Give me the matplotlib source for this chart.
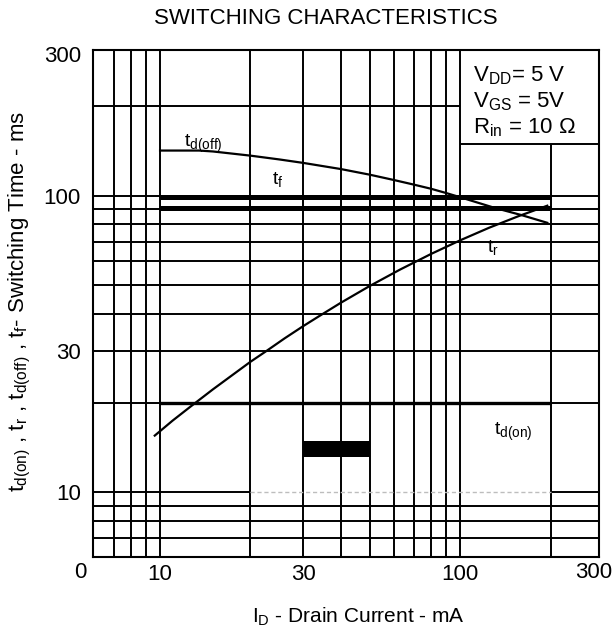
import matplotlib
matplotlib.use("Agg")
import matplotlib.pyplot as plt

plt.rcParams["font.family"] = ["Liberation Sans", "DejaVu Sans"]
plt.rcParams["mathtext.fontset"] = "custom"
plt.rcParams["mathtext.rm"] = "Liberation Sans"
plt.rcParams["mathtext.it"] = "Liberation Sans"

# switching times vs drain current (log-log)
td_off_current = [10, 13.5, 15, 20, 25, 30, 40, 50, 60, 70, 80, 90, 100, 130, 160, 195]
td_off_time = [142, 142, 141, 136.5, 132.5, 129, 123, 117.7, 113, 109, 105.5, 102, 98.8, 91, 86, 81]

tr_current = [9.6, 11, 12.7, 15, 17.5, 20, 22.6, 26, 30, 34, 40, 50, 63, 80, 100, 125, 156, 195]
tr_time = [15.5, 17.4, 19.5, 22.2, 24.9, 27.5, 29.9, 33, 36.3, 39.3, 43.5, 49.6, 56.3, 63.6,
           70.7, 78, 85.2, 92.5]

tf_band = [98.8, 90.7]        # fall time drawn as two heavy bars
tf_span = [10, 200]
td_on_time = 20
td_on_span = [10, 200]
block_current = [30, 50]
block_time = [13.1, 14.9]

x_ticks = [10, 30, 100]
x_tick_labels = ["10", "30", "100"]
y_ticks = [10, 30, 100, 300]
y_tick_labels = ["10", "30", "100", "300"]

grid_x_full = [7, 8, 9, 10, 20, 30, 40, 50, 60, 70, 80, 90, 100]
grid_y_full = [80, 70, 60, 50, 40, 30, 9, 8, 7]

XMIN, XMAX = 6, 290
YMIN, YMAX = 6.05, 310

fig = plt.figure(figsize=(6.15, 6.34), dpi=100)
ax = fig.add_axes([0.152, 0.122, 0.822, 0.799])
ax.set_xscale("log")
ax.set_yscale("log")
ax.set_xlim(XMIN, XMAX)
ax.set_ylim(YMIN, YMAX)

lw = 1.4
k = "black"

# grid, drawn by hand because several lines stop part way
ax.vlines(grid_x_full, YMIN, YMAX, color=k, lw=lw)
ax.vlines(200, YMIN, 150, color=k, lw=lw)
ax.hlines(grid_y_full, XMIN, XMAX, color=k, lw=lw)
ax.hlines(200, XMIN, 100, color=k, lw=lw)
ax.hlines(150, 100, XMAX, color=k, lw=lw)
for y in (100, 90, 20):
    ax.hlines(y, XMIN, 10, color=k, lw=lw)
    ax.hlines(y, 200, XMAX, color=k, lw=lw)
ax.hlines(10, XMIN, 20, color=k, lw=lw)
ax.hlines(10, 200, XMAX, color=k, lw=lw)
ax.hlines(10, 20, 200, color="#bdbdbd", lw=1.0, linestyle=(0, (3, 2)))

# curves
ax.plot(td_off_current, td_off_time, color=k, lw=1.6, solid_joinstyle="round")
ax.plot(tr_current, tr_time, color=k, lw=1.6, solid_joinstyle="round")
ax.hlines(tf_band, tf_span[0], tf_span[1], color=k, lw=3.6)
ax.hlines(td_on_time, td_on_span[0], td_on_span[1], color=k, lw=2.4)
ax.fill_between(block_current, block_time[0], block_time[1], color=k, lw=0)

# curve labels
lab = dict(fontsize=14, color=k)
ax.text(12, 150, r"t$_{\mathrm{d(off)}}$", ha="left", va="center", **lab)
ax.text(23.6, 113, r"t$_{\mathrm{f}}$", ha="left", va="center", **lab)
ax.text(123, 66.8, r"t$_{\mathrm{r}}$", ha="left", va="center", **lab)
ax.text(129.5, 16.0, r"t$_{\mathrm{d(on)}}$", ha="left", va="center", **lab)

# test conditions
cond = dict(fontsize=16, color=k, ha="left", va="center")
ax.text(110, 255, r"V$_{\mathrm{DD}}$= 5 V", **cond)
ax.text(110, 207, r"V$_{\mathrm{GS}}$ = 5V", **cond)
ax.text(110, 169, r"R$_{\mathrm{in}}$ = 10 $\Omega$", **cond)

for s in ax.spines.values():
    s.set_linewidth(1.5)
    s.set_zorder(5)

ax.minorticks_off()
ax.set_xticks(x_ticks)
ax.set_xticklabels(x_tick_labels)
ax.set_yticks(y_ticks)
ax.set_yticklabels(y_tick_labels)
ax.tick_params(axis="both", length=0, labelsize=16)
ax.tick_params(axis="x", pad=5)
ax.tick_params(axis="y", pad=9)

# end labels of the current axis sit outside the plotted range
fig.text(80 / 615, 1 - 573 / 634, "0", fontsize=16, ha="center", va="center")
fig.text(594 / 615, 1 - 573 / 634, "300", fontsize=16, ha="center", va="center")

fig.text(326 / 615, 1 - 19 / 634, "SWITCHING CHARACTERISTICS", fontsize=16,
         ha="center", va="center")
fig.text(358 / 615, 1 - 617 / 634, r"I$_{\mathrm{D}}$ - Drain Current - mA",
         fontsize=15, ha="center", va="center")
fig.text(20 / 615, 1 - 302 / 634,
         r"t$_{\mathrm{d(on)}}$ , t$_{\mathrm{r}}$ , t$_{\mathrm{d(off)}}$ , t$_{\mathrm{f}}$- Switching Time - ms",
         fontsize=16, rotation=90, ha="center", va="center")

fig.savefig("out.png", dpi=100, facecolor="white")
